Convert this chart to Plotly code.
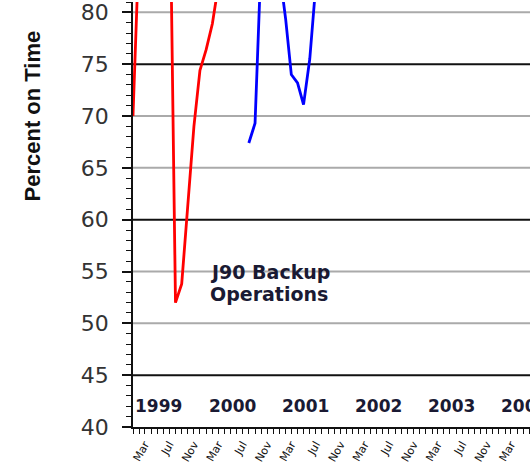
import plotly.graph_objects as go

# ---- data ----
red_dates = ["1999-01-01", "1999-02-01", "1999-03-01", "1999-04-01", "1999-05-01",
             "1999-06-01", "1999-07-01", "1999-08-01", "1999-09-01", "1999-10-01",
             "1999-11-01", "1999-12-01", "2000-01-01", "2000-02-01", "2000-03-01",
             "2000-04-01", "2000-05-01", "2000-06-01", "2000-07-01"]
red_values = [70, 87, 90, 91, 90, 92, 97, 52, 53.8, 61, 69, 74.4, 76.4, 78.9, 82.5,
              88, 90, 89, 90]

blue_dates = ["2000-08-01", "2000-09-01", "2000-10-01", "2000-11-01", "2000-12-01",
              "2001-01-01", "2001-02-01", "2001-03-01", "2001-04-01", "2001-05-01",
              "2001-06-01", "2001-07-01", "2001-08-01"]
blue_values = [67.4, 69.3, 85, 90, 88, 84, 79.3, 74, 73.2, 71.1, 75.5, 84, 90]

years = [1999, 2000, 2001, 2002, 2003, 2004]
tick_months = ["Mar", "Jul", "Nov"]
tick_month_nums = [3, 7, 11]
y_ticks = [40, 45, 50, 55, 60, 65, 70, 75, 80]
black_grid = [45, 60, 75]
gray_grid = [50, 55, 65, 70, 80]
note_lines = ["J90 Backup", "Operations"]
y_title = "Percent on Time"

# ---- build figure ----
tick_vals = []
tick_text = []
for yr in years:
    for m, name in zip(tick_month_nums, tick_months):
        tick_vals.append(f"{yr}-{m:02d}-01")
        tick_text.append(name)

fig = go.Figure()
fig.add_trace(go.Scatter(x=red_dates, y=red_values, mode="lines",
                         line=dict(color="#ff0000", width=2.8), showlegend=False))
fig.add_trace(go.Scatter(x=blue_dates, y=blue_values, mode="lines",
                         line=dict(color="#0000ff", width=2.8), showlegend=False))

for v in gray_grid:
    fig.add_hline(y=v, line=dict(color="#aaaaaa", width=2), layer="below")
for v in black_grid:
    fig.add_hline(y=v, line=dict(color="#111111", width=2), layer="below")

for yr in years:
    fig.add_annotation(x=f"{yr}-05-10", y=42, text=f"<b>{yr}</b>", showarrow=False,
                       xanchor="center", yanchor="middle",
                       font=dict(family="DejaVu Sans", size=17, color="#1a1a33"))

fig.add_annotation(x="2000-01-08", y=55.0, text=f"<b>{note_lines[0]}</b>", showarrow=False,
                   xanchor="left", yanchor="middle",
                   font=dict(family="DejaVu Sans", size=19, color="#1a1a33"))
fig.add_annotation(x="2000-01-08", y=52.8, text=f"<b>{note_lines[1]}</b>", showarrow=False,
                   xanchor="left", yanchor="middle",
                   font=dict(family="DejaVu Sans", size=19, color="#1a1a33"))

fig.add_annotation(xref="paper", yref="paper", x=-0.254, y=0.731,
                   text=f"<b>{y_title}</b>", textangle=-90, showarrow=False,
                   xanchor="center", yanchor="middle",
                   font=dict(family="Liberation Sans", size=22, color="#111111"))

fig.update_xaxes(type="date", range=["1999-01-01", "2004-06-04"],
                 tickmode="array", tickvals=tick_vals, ticktext=tick_text,
                 tickangle=-60, ticks="outside", ticklen=5, tickwidth=1.2, tickcolor="#111",
                 minor=dict(dtick="M1", ticks="outside", ticklen=5, tickcolor="#111", tickwidth=1.2),
                 showgrid=False, showline=True, linecolor="#111", linewidth=1.5,
                 tickfont=dict(family="DejaVu Sans", size=11, color="#111"))
fig.update_yaxes(range=[40, 81], tickmode="array", tickvals=y_ticks,
                 ticks="outside", ticklen=9, tickwidth=1.5, tickcolor="#111",
                 minor=dict(dtick=1, ticks="outside", ticklen=5, tickcolor="#111", tickwidth=1),
                 showgrid=False, zeroline=False, showline=True, linecolor="#111", linewidth=1.5,
                 ticklabelstandoff=9, ticklabeloverflow="allow",
                 tickfont=dict(family="DejaVu Sans", size=22, color="#333"))

fig.update_layout(width=530, height=469, margin=dict(l=133, r=0, t=0, b=42),
                  paper_bgcolor="white", plot_bgcolor="rgba(0,0,0,0)")

fig.write_html("out.html", config={"displayModeBar": False},
               post_script="document.body.style.margin='0';")
